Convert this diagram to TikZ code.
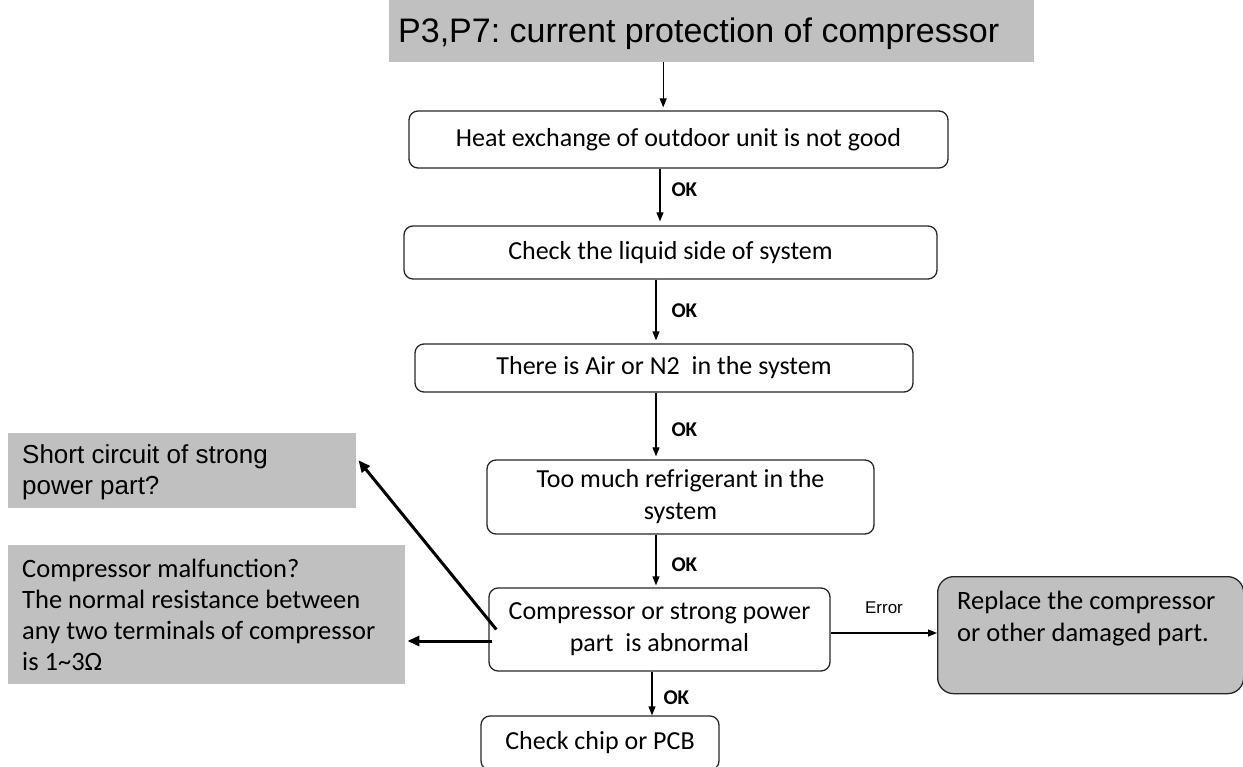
\documentclass[tikz,border=0pt]{standalone}
\usepackage{fontspec}
\setmainfont{Carlito}
\newfontfamily\arialf{Liberation Sans}
\usetikzlibrary{arrows.meta}
\definecolor{boxgray}{HTML}{C0C0C0}
\frenchspacing
\tikzset{
  flowbox/.style={draw=black!85, line width=1.3pt, rounded corners=9pt, align=center, font=\fontsize{26}{32}\selectfont, inner sep=0pt},
  graybox/.style={fill=boxgray, draw=none, inner sep=0pt},
  thinarrow/.style={line width=1.1pt, -{Triangle[length=9pt,width=7pt]}},
  thickarrow/.style={line width=3pt, -{Triangle[length=12pt,width=10pt]}},
  oklabel/.style={font=\bfseries\fontsize{21}{24}\selectfont, anchor=west}
}
\begin{document}
\begin{tikzpicture}[x=1pt,y=-1pt]
\useasboundingbox (0,0) rectangle (1243,767);
% title
\node[graybox, minimum width=645pt, minimum height=62pt, anchor=north west] (title) at (389,0) {};
\node[anchor=west, font=\arialf\fontsize{34}{40}\selectfont, inner sep=0pt] (titletxt) at (398,34) {P3,P7: current protection of compressor};
% main column
\node[flowbox, minimum width=539pt, minimum height=57pt] (b1) at (678.5,139.5) {Heat exchange of outdoor unit is not good};
\node[flowbox, minimum width=533pt, minimum height=53pt] (b2) at (670.5,252.5) {Check the liquid side of system};
\node[flowbox, minimum width=498pt, minimum height=48pt] (b3) at (664,368) {There is Air or N2\ \ in the system};
\node[flowbox, minimum width=387pt, minimum height=74pt] (b4) at (680.5,497) {Too much refrigerant in the\\system};
\node[flowbox, minimum width=341pt, minimum height=83pt] (b5) at (659.5,629.5) {Compressor or strong power\\part\ \ is abnormal};
\node[flowbox, minimum width=238pt, minimum height=54pt] (b6) at (600,743) {Check chip or PCB};
% right box
\node[graybox, draw=black!85, line width=1.3pt, rounded corners=16pt, minimum width=306pt, minimum height=117pt, anchor=north west] (rep) at (937,576) {};
\node[anchor=north west, align=left, font=\fontsize{26.5}{32}\selectfont, inner sep=0pt] (reptxt) at (957,591) {Replace the compressor\\or other damaged part.};
% left boxes
\node[graybox, minimum width=348pt, minimum height=75pt, anchor=north west] (sc) at (8,433) {};
\node[anchor=north west, align=left, font=\arialf\fontsize{26}{31}\selectfont, inner sep=0pt] (sctxt) at (22,444) {Short circuit of strong\\power part?};
\node[graybox, minimum width=397pt, minimum height=139pt, anchor=north west] (cm) at (8,545) {};
\node[anchor=north west, align=left, font=\fontsize{26.5}{31}\selectfont, inner sep=0pt] (cmtxt) at (22,559) {Compressor malfunction?\\The normal resistance between\\any two terminals of compressor\\is 1\textasciitilde3\symbol{"03A9}};
% connector start points
\coordinate (s0) at ([xshift=-48.5pt]title.south);
\coordinate (s1) at ([xshift=-18.5pt]b1.south);
\coordinate (s2) at ([xshift=-14.5pt]b2.south);
\coordinate (s3) at ([xshift=-8pt]b3.south);
\coordinate (s4) at ([xshift=-24.5pt]b4.south);
\coordinate (s5) at ([xshift=-7.5pt]b5.south);
\coordinate (se) at ([yshift=-3.5pt]b5.east);
\coordinate (sl) at ([xshift=4pt,yshift=-11.5pt]b5.west);
% arrows
\draw[thinarrow] (s0) -- ([yshift=3pt]s0 |- b1.north);
\draw[thinarrow] (s1) -- ([yshift=4pt]s1 |- b2.north);
\node[oklabel] (ok1) at (668,190) {OK};
\draw[thinarrow] (s2) -- ([yshift=3pt]s2 |- b3.north);
\node[oklabel] (ok2) at (668,311) {OK};
\draw[thinarrow] (s3) -- ([yshift=3pt]s3 |- b4.north);
\node[oklabel] (ok3) at (668,430) {OK};
\draw[thinarrow] (s4) -- ([yshift=2pt]s4 |- b5.north);
\node[oklabel] (ok4) at (668,565) {OK};
\draw[thinarrow] (s5) -- (s5 |- b6.north);
\node[oklabel] (ok5) at (660,698) {OK};
\draw[thinarrow] (se) -- (se -| rep.west);
\node[font=\arialf\fontsize{17}{19}\selectfont] (err) at (884,608) {Error};
\draw[thickarrow] ([xshift=8pt]b5.west) -- ([xshift=2pt,yshift=10.5pt]sc.east);
\draw[thickarrow] (sl) -- ([xshift=2pt]sl -| cm.east);
\end{tikzpicture}
\end{document}
